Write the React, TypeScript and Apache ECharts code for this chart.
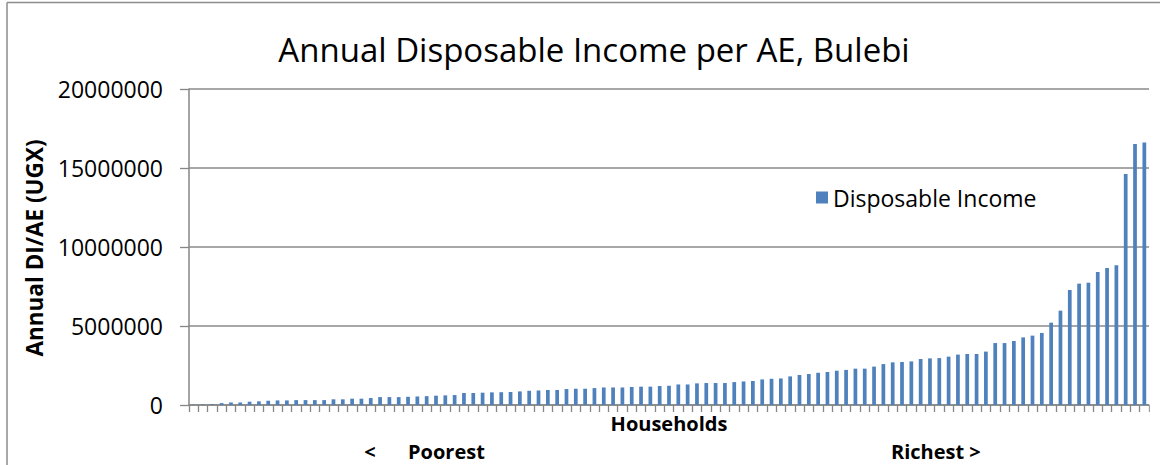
import React, { useEffect, useRef } from "react";
import * as echarts from "echarts";

const chartTitle = "Annual Disposable Income per AE, Bulebi";
const seriesName = "Disposable Income";
const yAxisTitle = "Annual DI/AE (UGX)";
const xAxisTitle = "Households";
const poorestLabel = "Poorest";
const richestLabel = "Richest >";

// Annual disposable income per adult equivalent (UGX), households sorted poorest to richest
const incomeValues = [
  15000, 30000, 50000, 120000, 160000, 160000, 210000, 230000, 270000, 290000,
  290000, 310000, 310000, 310000, 310000, 360000, 360000, 400000, 400000, 440000,
  500000, 500000, 500000, 520000, 540000, 560000, 590000, 610000, 630000, 760000,
  760000, 780000, 800000, 810000, 820000, 860000, 900000, 920000, 950000, 950000,
  1010000, 1030000, 1030000, 1070000, 1110000, 1110000, 1110000, 1140000, 1160000, 1160000,
  1200000, 1220000, 1300000, 1300000, 1370000, 1390000, 1390000, 1390000, 1450000, 1490000,
  1520000, 1620000, 1660000, 1680000, 1810000, 1900000, 1960000, 2040000, 2090000, 2170000,
  2220000, 2300000, 2300000, 2430000, 2590000, 2700000, 2720000, 2760000, 2910000, 2950000,
  2970000, 3060000, 3190000, 3230000, 3230000, 3380000, 3920000, 3920000, 4050000, 4280000,
  4390000, 4560000, 5210000, 5970000, 7280000, 7680000, 7740000, 8420000, 8670000, 8840000,
  14620000, 16520000, 16620000,
];

const householdIds = incomeValues.map((_, i) => String(i + 1));

const yTicks = [0, 5000000, 10000000, 15000000, 20000000];

const FONT = "'Open Sans', 'Noto Sans', sans-serif";

export default function App() {
  const ref = useRef<HTMLDivElement>(null);

  useEffect(() => {
    if (!ref.current) return;
    const chart = echarts.init(ref.current, undefined, { renderer: "svg" });
    const boldText = (x: number, y: number, text: string, align: string, size: number) => ({
      type: "text",
      x,
      y,
      style: {
        text,
        fontFamily: FONT,
        fontSize: size,
        fontWeight: "bold",
        fill: "#000",
        align,
        verticalAlign: "middle",
      },
    });
    chart.setOption({
      animation: false,
      backgroundColor: "#ffffff",
      textStyle: { fontFamily: FONT },
      grid: { left: 189, right: 11, top: 89, bottom: 60, containLabel: false, show: false },
      legend: {
        data: [seriesName],
        left: 811,
        top: 181,
        icon: "rect",
        itemWidth: 12,
        itemHeight: 12,
        itemGap: 8,
        textStyle: { fontFamily: FONT, fontSize: 23, color: "#000" },
      },
      xAxis: {
        type: "category",
        data: householdIds,
        boundaryGap: true,
        axisLine: { show: true, lineStyle: { color: "#868686", width: 1.5 } },
        axisTick: {
          show: true,
          interval: 0,
          alignWithLabel: false,
          length: 7,
          lineStyle: { color: "#868686", width: 1.3 },
        },
        axisLabel: { show: false },
        splitLine: { show: false },
        splitArea: { show: false },
      },
      yAxis: {
        type: "value",
        min: yTicks[0],
        max: yTicks[yTicks.length - 1],
        interval: yTicks[1] - yTicks[0],
        axisLine: { show: true, lineStyle: { color: "#868686", width: 1.5 } },
        axisTick: { show: true, length: 9, lineStyle: { color: "#868686", width: 1.3 } },
        axisLabel: {
          margin: 26,
          fontFamily: FONT,
          fontSize: 23,
          color: "#000",
          formatter: (v: number) => String(v),
        },
        splitLine: { show: true, lineStyle: { color: "#8a8a8a", width: 1.5 } },
        splitArea: { show: false },
      },
      series: [
        {
          name: seriesName,
          type: "bar",
          data: incomeValues,
          barCategoryGap: "60%",
          itemStyle: { color: "#4F81BD" },
        },
      ],
      graphic: [
        {
          type: "rect",
          shape: { x: 1149.8, y: 4, width: 20, height: 470 },
          style: { fill: "#ffffff" },
          silent: true,
          z: 900,
        },
        {
          type: "line",
          shape: { x1: 7, y1: 2.5, x2: 1160, y2: 2.5 },
          style: { stroke: "#8c8c8c", lineWidth: 1.5 },
          silent: true,
          z: 1000,
        },
        {
          type: "line",
          shape: { x1: 7, y1: 2.5, x2: 7, y2: 465 },
          style: { stroke: "#8c8c8c", lineWidth: 1.5 },
          silent: true,
          z: 1000,
        },
        {
          type: "text",
          x: 594,
          y: 49,
          style: {
            text: chartTitle,
            fontFamily: FONT,
            fontSize: 33,
            fill: "#000",
            align: "center",
            verticalAlign: "middle",
          },
        },
        {
          type: "text",
          x: 34,
          y: 248,
          rotation: Math.PI / 2,
          style: {
            text: yAxisTitle,
            fontFamily: FONT,
            fontSize: 22.5,
            fontWeight: "bold",
            fill: "#000",
            align: "center",
            verticalAlign: "middle",
          },
        },
        boldText(669, 423, xAxisTitle, "center", 20),
        boldText(370, 451, "<", "center", 20),
        boldText(408, 451, poorestLabel, "left", 20),
        boldText(891, 451, richestLabel, "left", 20),
      ],
    });
    return () => chart.dispose();
  }, []);

  return (
    <div
      ref={ref}
      style={{ position: "fixed", left: 0, top: 0, width: 1160, height: 465 }}
    />
  );
}
